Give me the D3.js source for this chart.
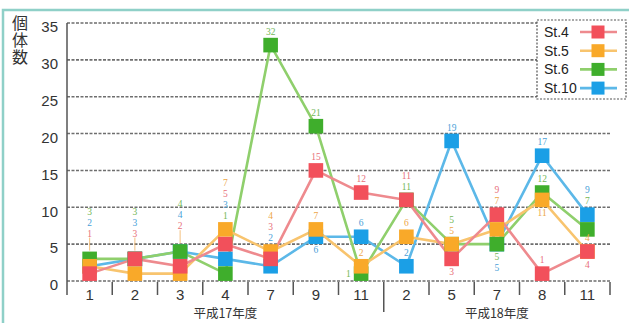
<!DOCTYPE html>
<html>
<head>
<meta charset="utf-8">
<script src="https://cdn.jsdelivr.net/npm/d3@7/dist/d3.min.js"></script>
<style>
  html, body { margin: 0; padding: 0; background: #fff; }
  svg { display: block; }
</style>
</head>
<body>
<script>
// Survey months, grouped by fiscal year
const months = ["1", "2", "3", "4", "7", "9", "11", "2", "5", "7", "8", "11"];
const fiscalYears = ["平成17年度", "平成18年度"];
const fiscalStart = [0, 7];   // first month index of each fiscal year
const fiscalEnd = [7, 12];

// Individual counts per station
const st4 = [1, 3, 2, 5, 3, 15, 12, 11, 3, 9, 1, 4];
const st5 = [2, 1, 1, 7, 4, 7, 2, 6, 5, 7, 11, 4];
const st6 = [3, 3, 4, 1, 32, 21, 1, 11, 5, 5, 12, 7];
const st10 = [2, 3, 4, 3, 2, 6, 6, 2, 19, 5, 17, 9];

const stationNames = ["St.4", "St.5", "St.6", "St.10"];
const yTicks = [0, 5, 10, 15, 20, 25, 30, 35];

// Value-label arrangement: [series, anchor series, side, row]
const labelPlan = [
  [["g", "g", "a", 2], ["b", "g", "a", 1], ["r", "g", "a", 0]],
  [["g", "r", "a", 2], ["b", "r", "a", 1], ["r", "r", "a", 0]],
  [["g", "g", "a", 2], ["b", "g", "a", 1], ["r", "g", "a", 0]],
  [["o", "o", "a", 3], ["r", "o", "a", 2], ["b", "o", "a", 1], ["g", "o", "a", 0]],
  [["g", "g", "a", 0], ["o", "o", "a", 2], ["r", "o", "a", 1], ["b", "o", "a", 0]],
  [["g", "g", "a", 0], ["r", "r", "a", 0], ["o", "o", "a", 0], ["b", "b", "b", 0]],
  [["r", "r", "a", 0], ["b", "b", "a", 0], ["o", "o", "a", 0], ["g", "g", "l", 0]],
  [["r", "r", "a", 1], ["g", "r", "a", 0], ["o", "o", "a", 0], ["b", "b", "a", 0]],
  [["b", "b", "a", 0], ["g", "o", "a", 1], ["o", "o", "a", 0], ["r", "r", "b", 0]],
  [["r", "r", "a", 1], ["o", "r", "a", 0], ["g", "g", "b", 0], ["b", "g", "b", 1]],
  [["b", "b", "a", 0], ["g", "g", "a", 0], ["o", "o", "b", 0], ["r", "r", "a", 0]],
  [["b", "b", "a", 1], ["g", "b", "a", 0], ["o", "r", "a", 0], ["r", "r", "b", 0]]
];
const leaderCols = [0, 1, 2];

const series = {
  r: { name: stationNames[0], values: st4, mark: "#f2505b", line: "#ee8a8e", text: "#e8707a" },
  o: { name: stationNames[1], values: st5, mark: "#f9a929", line: "#f8c46e", text: "#eda648" },
  g: { name: stationNames[2], values: st6, mark: "#3fae2c", line: "#8fcf6c", text: "#74b758" },
  b: { name: stationNames[3], values: st10, mark: "#1b9fe6", line: "#5cb8e8", text: "#4a9fd8" }
};
const drawOrder = ["b", "g", "o", "r"];

const W = 629, H = 323;
const svg = d3.select("body").append("svg").attr("width", W).attr("height", H);

// outer frame
svg.append("rect")
  .attr("x", 3).attr("y", 10).attr("width", 650).attr("height", 340)
  .attr("fill", "none").attr("stroke", "#8fd0c8").attr("stroke-width", 2.5);

const x = d3.scaleBand().domain(d3.range(months.length)).range([67, 610]);
const bw = x.bandwidth();
const cx = i => x(i) + bw / 2;
const y = d3.scaleLinear().domain([0, 35]).range([281, 23]);

// horizontal grid
svg.append("g").selectAll("line").data(yTicks).join("line")
  .attr("x1", 67).attr("x2", 610)
  .attr("y1", d => y(d)).attr("y2", d => y(d))
  .attr("stroke", "#6e6e6e").attr("stroke-width", 1.6)
  .attr("stroke-dasharray", "3,1.5");

// y axis
const yAxis = d3.axisLeft(y).tickValues(yTicks).tickSize(0).tickPadding(9);
const yg = svg.append("g").attr("transform", "translate(67,4)").call(yAxis);
yg.select(".domain").remove();
yg.selectAll("text")
  .attr("font-family", "Liberation Sans, Arial, sans-serif")
  .attr("font-size", 15).attr("fill", "#333");

svg.append("line")
  .attr("x1", 67).attr("x2", 67).attr("y1", 23).attr("y2", 295)
  .attr("stroke", "#555").attr("stroke-width", 1.5);

// x axis ticks at band boundaries
svg.append("g").selectAll("line").data(d3.range(1, months.length + 1)).join("line")
  .attr("x1", i => x(i - 1) + bw).attr("x2", i => x(i - 1) + bw)
  .attr("y1", 282).attr("y2", i => fiscalStart.includes(i) ? 312 : 295)
  .attr("stroke", "#555").attr("stroke-width", 1.5);

const xAxis = d3.axisBottom(x).tickSize(0).tickPadding(0).tickFormat(i => months[i]);
const xg = svg.append("g").attr("transform", "translate(0,289)").call(xAxis);
xg.select(".domain").remove();
xg.selectAll("text")
  .attr("font-family", "Liberation Sans, Arial, sans-serif")
  .attr("font-size", 15).attr("fill", "#333");

// fiscal year captions
svg.append("g").selectAll("text").data(fiscalYears).join("text")
  .attr("x", (d, k) => (x(fiscalStart[k]) + x(fiscalEnd[k] - 1) + bw) / 2)
  .attr("y", 318)
  .attr("text-anchor", "middle")
  .attr("font-family", "Noto Sans CJK JP, sans-serif")
  .attr("font-size", 12.5).attr("fill", "#333")
  .text(d => d);

// vertical axis title
svg.append("text")
  .attr("x", 20).attr("y", 15)
  .style("writing-mode", "vertical-rl")
  .attr("font-family", "Noto Sans CJK JP, sans-serif")
  .attr("font-size", 16).attr("letter-spacing", 1).attr("fill", "#333")
  .text("個体数");

// lines
const line = d3.line().x((d, i) => cx(i)).y(d => y(d));
drawOrder.forEach(k => {
  svg.append("path").datum(series[k].values)
    .attr("d", line).attr("fill", "none")
    .attr("stroke", series[k].line).attr("stroke-width", 2.6)
    .attr("stroke-linejoin", "round");
});

// leader lines from stacked labels to markers
const ms = 14.6;
svg.append("g").selectAll("line").data(leaderCols).join("line")
  .attr("x1", i => cx(i)).attr("x2", i => cx(i))
  .attr("y1", i => y(d3.max(drawOrder, k => series[k].values[i])) - ms / 2 - 14)
  .attr("y2", i => y(d3.max(drawOrder, k => series[k].values[i])) - ms / 2 - 1)
  .attr("stroke", "#f0b060").attr("stroke-width", 0.8);

// square markers
drawOrder.forEach(k => {
  svg.append("g").selectAll("rect").data(series[k].values).join("rect")
    .attr("x", (d, i) => cx(i) - ms / 2).attr("y", d => y(d) - ms / 2)
    .attr("width", ms).attr("height", ms)
    .attr("fill", series[k].mark);
});

// value labels: each stack of labels around one marker is one text element
const rowH = 11;
const labels = [];
labelPlan.forEach((col, i) => col.forEach(([s, a, side, row]) => {
  const vy = y(series[a].values[i]);
  let px = cx(i), py, anchor = "middle";
  const extra = leaderCols.includes(i) ? 12 : 0;
  if (side === "a") py = vy - ms / 2 - 6 - extra - row * rowH;
  else if (side === "b") py = vy + ms / 2 + 6 + row * rowH;
  else { px = cx(i) - ms / 2 - 3; py = vy; anchor = "end"; }
  labels.push({ s, i, px, py, anchor, key: `${i}-${a}-${side}` });
}));
const stacks = d3.groups(labels, d => d.key).map(([, g]) => g.sort((p, q) => p.py - q.py));
const lt = svg.append("g").selectAll("text").data(stacks).join("text")
  .attr("x", g => g[0].px).attr("y", g => g[0].py)
  .attr("text-anchor", g => g[0].anchor)
  .attr("dominant-baseline", "central")
  .attr("font-family", "Liberation Serif, DejaVu Serif, serif")
  .attr("font-size", 9.5);
lt.selectAll("tspan").data(g => g).join("tspan")
  .attr("x", d => d.px).attr("y", d => d.py)
  .attr("fill", d => series[d.s].text)
  .text(d => series[d.s].values[d.i]);

// legend
const lg = svg.append("g");
lg.append("rect").attr("x", 537).attr("y", 20).attr("width", 89).attr("height", 79)
  .attr("fill", "#fff").attr("stroke", "#555").attr("stroke-width", 1.2)
  .attr("stroke-dasharray", "2,1.5");
const legendKeys = ["r", "o", "g", "b"];
const li = lg.selectAll("g").data(legendKeys).join("g")
  .attr("transform", (d, k) => `translate(0,${32 + k * 18.7})`);
li.append("text").attr("x", 544).attr("y", 0).attr("dominant-baseline", "central")
  .attr("font-family", "Liberation Sans, Arial, sans-serif").attr("font-size", 14)
  .attr("fill", "#222").text(d => series[d].name);
li.append("line").attr("x1", 580).attr("x2", 617).attr("y1", 0).attr("y2", 0)
  .attr("stroke", d => series[d].line).attr("stroke-width", 2.6);
li.append("rect").attr("x", 598 - 6.5).attr("y", -6.5).attr("width", 13).attr("height", 13)
  .attr("fill", d => series[d].mark);
</script>
</body>
</html>
